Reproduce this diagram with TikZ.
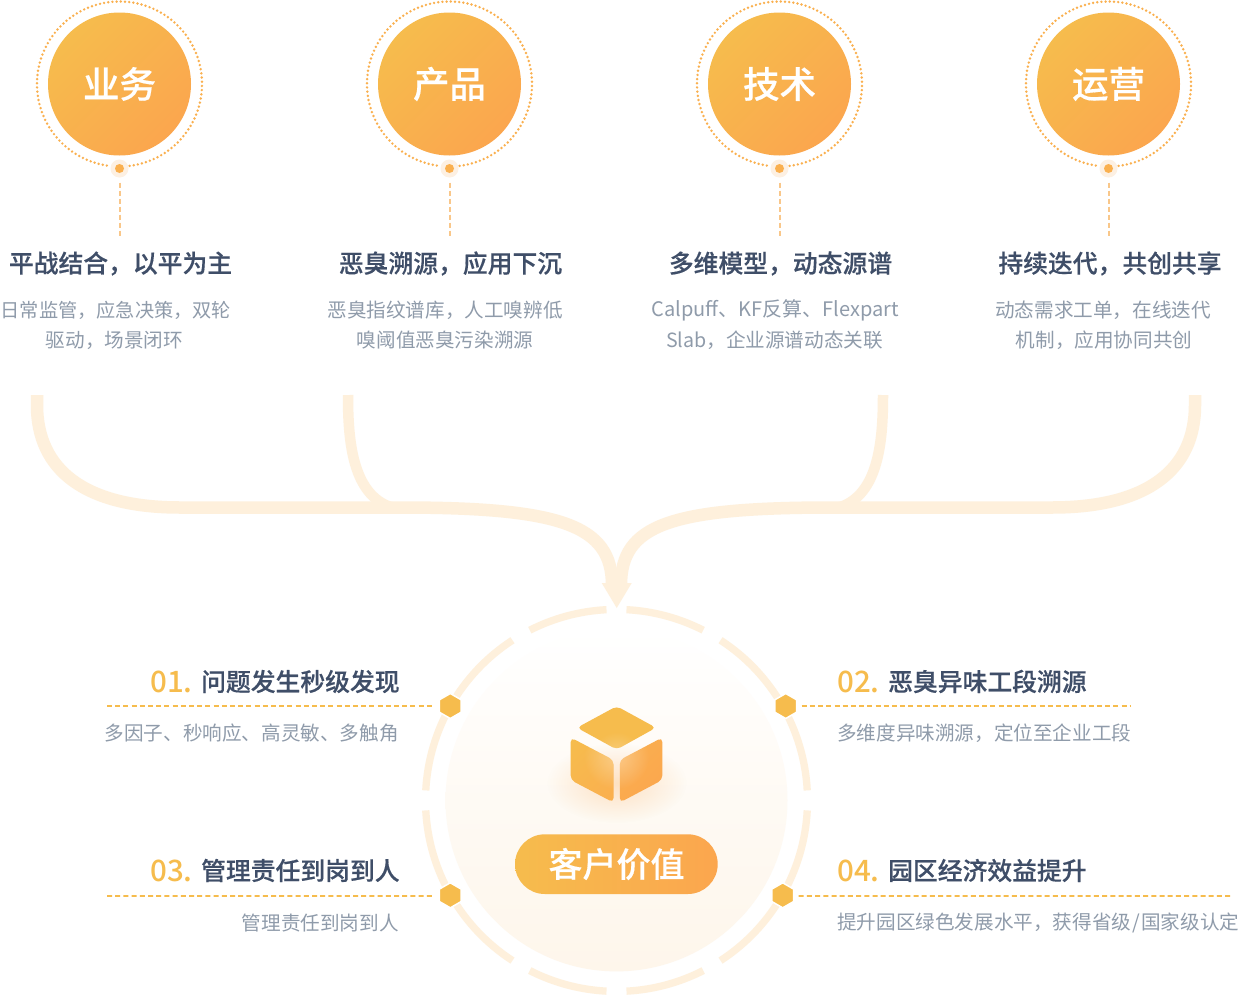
\documentclass[tikz,border=0pt]{standalone}
\usepackage{fontspec}
\setmainfont{Noto Sans CJK SC}
\newfontfamily\medf{Noto Sans CJK SC Medium}
\newfontfamily\headf[FakeBold=0.35]{Noto Sans CJK SC Medium}
\usetikzlibrary{arrows.meta,shapes.geometric,fadings,calc}
\definecolor{lineC}{HTML}{FEF0DC}
\definecolor{goldC}{HTML}{F6BC4D}
\definecolor{orangeC}{HTML}{FBA64E}
\definecolor{midC}{HTML}{FAB04F}
\definecolor{headC}{HTML}{3F4E68}
\definecolor{descC}{HTML}{8F9BAA}
\definecolor{haloC}{HTML}{FDF0E2}
\definecolor{dashC}{HTML}{F9C78A}
\definecolor{diskC}{HTML}{FEF6EB}
\tikzfading[name=softglow, inner color=transparent!0, outer color=transparent!100]
\tikzset{
  x=1pt,y=1pt,
  titleT/.style={text=white,font=\fontsize{36.5}{40}\headf\selectfont,inner sep=0pt},
  headT/.style={text=headC,font=\fontsize{24.8}{30}\headf\selectfont,inner sep=0pt},
  descT/.style={text=descC,font=\fontsize{19.6}{24}\selectfont,inner sep=0pt},
  numT/.style={text=goldC,font=\fontsize{29.5}{32}\medf\selectfont,inner sep=0pt},
  flow/.style={draw=lineC,line width=12.5pt},
  ringarc/.style={draw=lineC,line width=7.3pt},
  vdash/.style={draw=dashC,line width=1.5pt,dash pattern=on 5pt off 3pt},
  hdash/.style={draw=goldC,line width=1.8pt,dash pattern=on 5pt off 3.2pt},
  hexa/.style={regular polygon,regular polygon sides=6,shape border rotate=30,minimum size=25pt,inner sep=0pt,fill=goldC,draw=white,line width=1.5pt},
  dotring/.style={draw=midC,line width=2.7pt,line cap=round,dash pattern=on 0pt off 4.2pt},
  facecol/.style={rounded corners=4.5pt}
}
\newcommand{\topcircle}[3]{%
  \coordinate (c#1) at (#2,-84);
  \draw[dotring] (#2,-84) ++(-83:82.5) arc[start angle=-83,end angle=263,radius=82.5];
  \shade[left color=goldC,right color=orangeC,shading angle=45] (c#1) circle[radius=71.5];
  \node[titleT] (t#1) at (#2,-84) {#3};
  \fill[haloC] (#2,-168.5) circle[radius=9];
  \node[circle,fill=midC,minimum size=9pt,inner sep=0pt] (d#1) at (#2,-168.5) {};
  \coordinate (e#1) at ($(d#1)+(0.4,-67.5)$);
  \draw[vdash] ($(d#1)+(0.4,-14)$) -- (e#1);
}
\begin{document}
\begin{tikzpicture}
\useasboundingbox (0,0) rectangle (1240,-996);
\fill[white] (0,0) rectangle (1240,-996);

\topcircle{a}{119.5}{业务}
\topcircle{b}{449.5}{产品}
\topcircle{c}{779.5}{技术}
\topcircle{d}{1108.5}{运营}

\node[headT] (ha) at (120.5,-263.5) {平战结合，以平为主};
\node[headT] (hb) at (450.5,-263.5) {恶臭溯源，应用下沉};
\node[headT] (hc) at (780.5,-263.5) {多维模型，动态源谱};
\node[headT] (hd) at (1110,-263.5) {持续迭代，共创共享};

\node[descT,font=\fontsize{19.2}{24}\selectfont] (a1) at (116,-310) {日常监管，应急决策，双轮};
\node[descT] (a2) at (114.5,-340) {驱动，场景闭环};
\node[descT] (b1) at (445,-310) {恶臭指纹谱库，人工嗅辨低};
\node[descT] (b2) at (445,-340) {嗅阈值恶臭污染溯源};
\node[descT,font=\fontsize{20}{24}\selectfont] (c1) at (775,-310) {Calpuff、KF反算、Flexpart};
\node[descT] (c2) at (774.5,-340) {Slab，企业源谱动态关联};
\node[descT] (d1) at (1103,-310) {动态需求工单，在线迭代};
\node[descT] (d2) at (1104,-340) {机制，应用协同共创};

% flows
\coordinate (fa) at (37,-395);
\coordinate (fb) at (348,-395);
\coordinate (fc) at (883,-395);
\coordinate (fd) at (1195,-395);
\coordinate (tip) at (616.7,-608);
\coordinate (jl) at (400,-507.5);
\coordinate (jr) at (833,-507.5);
\draw[flow,line width=10.5pt] (fb) .. controls (348,-440) and (352,-495) .. (392,-507.5);
\draw[flow,line width=10.5pt] (fc) .. controls (883,-440) and (879,-495) .. (839,-507.5);
\draw[flow] (fa) -- (37,-405) .. controls (37,-470) and (85,-507.5) .. (180,-507.5) -- (jl)
   .. controls (560,-507.5) and (612,-525) .. (612,-585);
\draw[flow] (fd) -- (1195,-405) .. controls (1195,-470) and (1147,-507.5) .. (1052,-507.5) -- (jr)
   .. controls (670,-507.5) and (621,-525) .. (621,-585);
\fill[lineC] (601.7,-583) -- (631.7,-583) -- (tip) -- cycle;

% ring
\coordinate (rc) at (616.5,-800.4);
\foreach \s/\e in {87/63, 57/3, 177/123, 117/93, 267/243, 237/183, -3/-57, -63/-87}{
  \draw[ringarc] (rc) ++(\s:191) arc[start angle=\s,end angle=\e,radius=191];
}

% disk
\shade[top color=white,bottom color=diskC,middle color=diskC!55!white] (rc) circle[radius=171];

% cube shadow
\fill[orangeC,opacity=.3,path fading=softglow] (616.7,-783) ellipse[x radius=70,y radius=40];

% cube
\begin{scope}
  \path[facecol,clip] (616.7,-706.2) -- (656,-727.7) -- (616.7,-749.5) -- (577,-727.7) -- cycle;
  \fill[goldC] (570,-700) rectangle (665,-755);
  \fill[white,opacity=.3,path fading=softglow] (616.7,-758) circle[radius=26];
\end{scope}
\begin{scope}
  \path[facecol,clip] (570.7,-737.5) -- (613.5,-760) -- (613.5,-802.5) -- (570.7,-780) -- cycle;
  \shade[left color=goldC,right color=midC,shading angle=45] (565,-730) rectangle (618,-806);
  \fill[white,opacity=.32,path fading=softglow] (616,-757) circle[radius=32];
\end{scope}
\begin{scope}
  \path[facecol,clip] (662.3,-737.5) -- (619.8,-760) -- (619.8,-802.5) -- (662.3,-780) -- cycle;
  \shade[left color=midC,right color=orangeC,shading angle=45] (616,-730) rectangle (668,-806);
  \fill[white,opacity=.32,path fading=softglow] (617,-757) circle[radius=32];
\end{scope}

% pill
\shade[left color=goldC,right color=orangeC,rounded corners=29.8pt] (515,-834.3) rectangle (717.7,-894);
\node[text=white,font=\fontsize{34}{38}\headf\selectfont,inner sep=0pt] (pill) at (616.5,-864) {客户价值};

% hexagons
\node[hexa] (hx1) at (450.3,-706) {};
\node[hexa] (hx2) at (785.7,-706) {};
\node[hexa] (hx3) at (450.3,-895.3) {};
\node[hexa] (hx4) at (782.7,-895.3) {};

% callouts
\coordinate (l1) at (107,-705.7);
\coordinate (r2) at (1131,-705.7);
\coordinate (l3) at (107,-895.9);
\coordinate (r4) at (1232,-895.9);
\draw[hdash] (l1) -- ($(hx1)+(-15.5,0.3)$);
\draw[hdash] ($(hx2)+(16,0.3)$) -- (r2);
\draw[hdash] (l3) -- ($(hx3)+(-15.5,-0.6)$);
\draw[hdash] ($(hx4)+(16,-0.6)$) -- (r4);

\node[numT,anchor=west] (n1) at (150,-681.5) {01.};
\node[numT,anchor=west] (n2) at (837,-681.5) {02.};
\node[numT,anchor=west] (n3) at (150,-871) {03.};
\node[numT,anchor=west] (n4) at (837,-871) {04.};

\node[headT,anchor=west] (q1) at (201,-681.5) {问题发生秒级发现};
\node[headT,anchor=west] (q2) at (888,-681.5) {恶臭异味工段溯源};
\node[headT,anchor=west] (q3) at (201,-870.5) {管理责任到岗到人};
\node[headT,anchor=west] (q4) at (888,-870.5) {园区经济效益提升};

\node[descT,anchor=east] (p1) at (398.8,-733) {多因子、秒响应、高灵敏、多触角};
\node[descT,anchor=west] (p2) at (837,-733) {多维度异味溯源，定位至企业工段};
\node[descT,anchor=east] (p3) at (398.8,-923) {管理责任到岗到人};
\node[descT,anchor=west] (p4) at (837,-923) {提升园区绿色发展水平，获得省级\kern1.2pt/\kern1.2pt国家级认定};
\end{tikzpicture}
\end{document}
